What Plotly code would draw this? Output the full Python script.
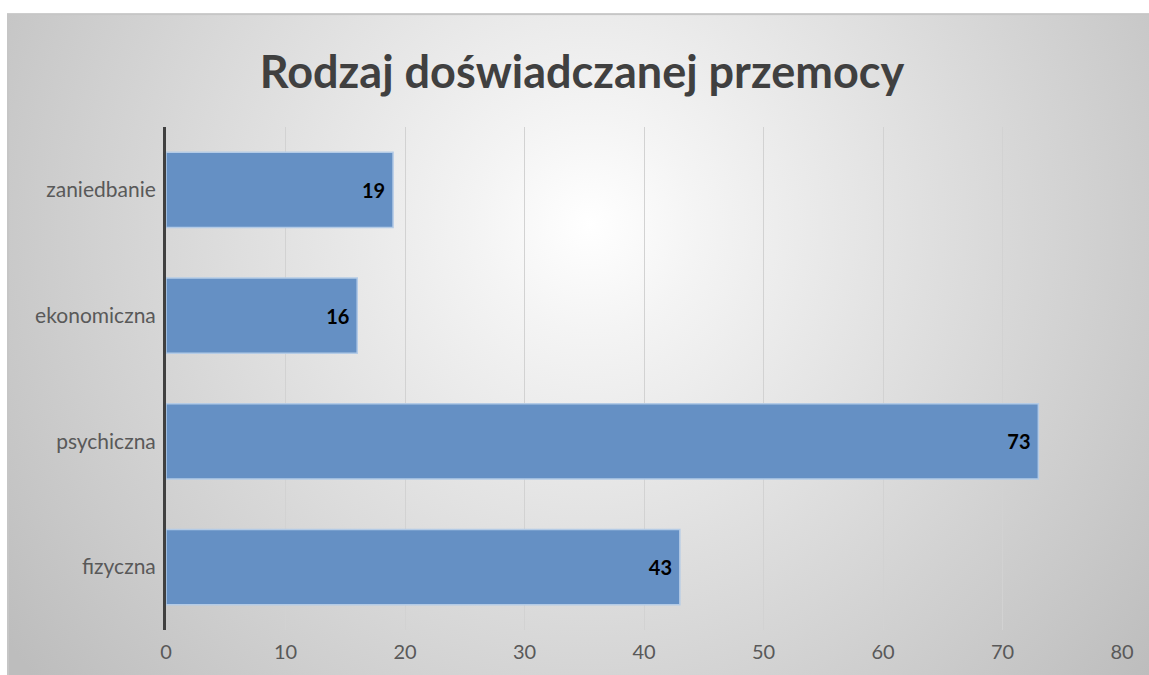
import base64
import plotly.graph_objects as go

categories = ["fizyczna", "psychiczna", "ekonomiczna", "zaniedbanie"]
values = [43, 73, 16, 19]
x_ticks = [0, 10, 20, 30, 40, 50, 60, 70, 80]

W, H = 1149, 675
L, R, T, B = 166, 27, 127, 40
pw, ph = W - L - R, H - T - B

# full-figure background (with overshoot): white margin + radial gradient chart area
O = 30  # overshoot in px on every side
IW, IH = W + 2 * O, H + 2 * O
bx0, by0 = 7, 12
svg = f'''<svg xmlns="http://www.w3.org/2000/svg" width="{IW}" height="{IH}" viewBox="{-O} {-O} {IW} {IH}" preserveAspectRatio="none">
<defs><radialGradient id="g" gradientUnits="userSpaceOnUse" cx="590" cy="225" r="720">
<stop offset="0" stop-color="#ffffff"/><stop offset="0.15" stop-color="#f4f4f4"/><stop offset="1" stop-color="#bdbdbd"/>
</radialGradient></defs>
<rect x="{-O}" y="{-O}" width="{IW}" height="{IH}" fill="#ffffff"/>
<rect x="{bx0 + 1}" y="{by0 + 1}" width="{W + 2 * O}" height="{H + 2 * O}" fill="url(#g)" stroke="#c6c6c6" stroke-width="2"/></svg>'''
src = "data:image/svg+xml;base64," + base64.b64encode(svg.encode()).decode()

fig = go.Figure()
fig.add_trace(go.Bar(
    y=categories, x=values, orientation="h", width=0.6,
    marker=dict(color="#6590C4", line=dict(color="#B4CBE6", width=1.5)),
    text=[f"{v}\u00a0" for v in values], textposition="inside", insidetextanchor="end",
    textfont=dict(family="Lato", size=20, color="#000000", weight="bold"),
    hoverinfo="skip", cliponaxis=False,
))

fig.add_layout_image(dict(
    source=src, xref="paper", yref="paper",
    x=(-L - O) / pw, y=(H - B + O) / ph,
    sizex=IW / pw, sizey=IH / ph, sizing="stretch",
    xanchor="left", yanchor="top", layer="below",
))

fig.update_layout(
    width=W, height=H,
    margin=dict(l=L, r=R, t=T, b=B),
    paper_bgcolor="#ffffff", plot_bgcolor="rgba(0,0,0,0)",
    showlegend=False,
    title=dict(text="<b>Rodzaj doświadczanej przemocy</b>", xref="container", x=582 / W,
               yref="container", y=1 - 72 / H, xanchor="center", yanchor="middle",
               font=dict(family="Lato", size=45, color="#404040")),
    font=dict(family="Lato", size=21, color="#595959"),
    xaxis=dict(range=[0, 80], tickvals=x_ticks, showgrid=True, gridcolor="#d2d2d2",
               gridwidth=1, zeroline=False, showline=False,
               tickfont=dict(family="Lato", size=20, color="#595959"),
               ticks="outside", ticklen=4, tickcolor="rgba(0,0,0,0)"),
    yaxis=dict(categoryorder="array", categoryarray=categories, showgrid=False,
               zeroline=False, showline=True, linecolor="#404040", linewidth=3,
               tickfont=dict(family="Lato", size=21, color="#595959"),
               ticks="outside", ticklen=3, tickcolor="rgba(0,0,0,0)"),
)

fig.write_html("out.html", config={"displayModeBar": False},
               post_script="document.body.style.margin='0';"
                           "document.documentElement.style.overflow='hidden';"
                           "document.body.style.overflow='hidden';")
